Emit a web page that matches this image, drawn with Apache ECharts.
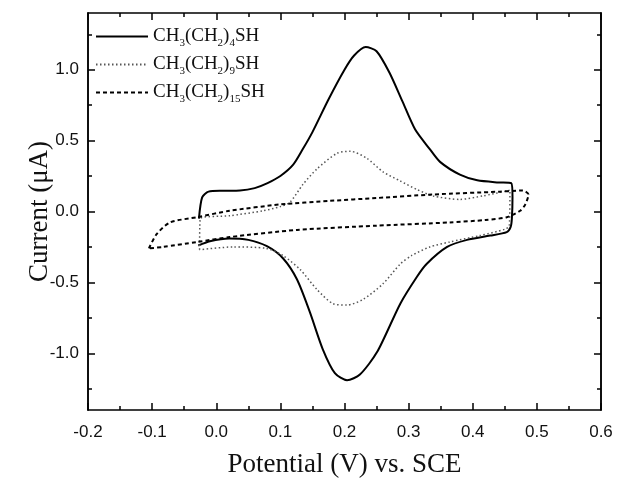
<!DOCTYPE html>
<html>
<head>
<meta charset="utf-8">
<script src="https://cdn.jsdelivr.net/npm/echarts@6/dist/echarts.min.js"></script>
<style>
  html, body { margin: 0; padding: 0; background: #fff; }
  #main { width: 618px; height: 483px; }
</style>
</head>
<body>
<div id="main"></div>
<script>
// series names (legend) and rich-text versions with subscripts
var seriesNames = ['CH3(CH2)4SH', 'CH3(CH2)9SH', 'CH3(CH2)15SH'];
var legendRich = ['CH{s|3}(CH{s|2}){s|4}SH', 'CH{s|3}(CH{s|2}){s|9}SH', 'CH{s|3}(CH{s|2}){s|15}SH'];

// tick values
var xTicks = [-0.2, -0.1, 0.0, 0.1, 0.2, 0.3, 0.4, 0.5, 0.6];
var yTicks = [-1.0, -0.5, 0.0, 0.5, 1.0];
var yMinorTicks = [-1.25, -0.75, -0.25, 0.25, 0.75, 1.25];

// [potential (V), current (uA)], in scan order
var c4Data = [
  [-0.027, -0.05], [-0.022, 0.10], [-0.012, 0.14], [0.01, 0.146], [0.037, 0.148],
  [0.06, 0.165], [0.08, 0.2], [0.1, 0.25], [0.12, 0.33], [0.135, 0.44],
  [0.15, 0.56], [0.175, 0.79], [0.2, 1.0], [0.215, 1.1], [0.233, 1.16],
  [0.25, 1.13], [0.27, 0.98], [0.29, 0.78], [0.31, 0.58], [0.333, 0.44],
  [0.349, 0.35], [0.38, 0.26], [0.407, 0.22], [0.44, 0.205], [0.46, 0.2],
  [0.462, 0.1], [0.461, -0.05], [0.459, -0.11], [0.453, -0.145], [0.427, -0.17],
  [0.391, -0.2], [0.36, -0.25], [0.328, -0.37], [0.313, -0.46], [0.287, -0.65],
  [0.251, -0.99], [0.224, -1.15], [0.204, -1.19], [0.185, -1.14], [0.166, -0.97],
  [0.146, -0.71], [0.126, -0.48], [0.104, -0.33], [0.079, -0.245], [0.05, -0.2],
  [0.02, -0.19], [-0.01, -0.21], [-0.028, -0.24]
];
var c9Data = [
  [-0.026, -0.27], [-0.025, -0.05], [0.021, -0.03], [0.073, 0.005], [0.1, 0.035],
  [0.115, 0.065], [0.135, 0.19], [0.157, 0.3], [0.188, 0.41], [0.209, 0.425],
  [0.235, 0.375], [0.26, 0.28], [0.287, 0.215], [0.313, 0.155], [0.338, 0.11],
  [0.38, 0.085], [0.416, 0.11], [0.453, 0.145], [0.458, 0.15], [0.457, -0.1],
  [0.45, -0.125], [0.411, -0.17], [0.364, -0.215], [0.333, -0.25], [0.305, -0.31],
  [0.287, -0.37], [0.26, -0.51], [0.229, -0.62], [0.204, -0.66], [0.182, -0.65],
  [0.157, -0.55], [0.131, -0.41], [0.104, -0.31], [0.078, -0.26], [0.026, -0.25],
  [-0.026, -0.27]
];
var c15Data = [
  [-0.105, -0.26], [-0.093, -0.16], [-0.072, -0.077], [-0.03, -0.04], [0.021, 0.005],
  [0.1, 0.05], [0.177, 0.075], [0.25, 0.095], [0.338, 0.12], [0.442, 0.14],
  [0.478, 0.148], [0.487, 0.12], [0.482, 0.05], [0.474, 0.005], [0.453, -0.04],
  [0.42, -0.06], [0.364, -0.077], [0.25, -0.1], [0.126, -0.13], [0.021, -0.18],
  [-0.03, -0.215], [-0.083, -0.25], [-0.105, -0.26]
];

var chart = echarts.init(document.getElementById('main'), null, { renderer: 'canvas' });

var axisLine = { show: true, onZero: false, lineStyle: { color: '#000', width: 1.5 } };

function tickAxis(pos, vals, len, labels) {
  return {
    type: 'value', position: pos, min: -1.4, max: 1.4,
    axisLine: axisLine,
    axisTick: { show: true, inside: true, length: len, customValues: vals, lineStyle: { color: '#000', width: 1.5 } },
    axisLabel: labels ? {
      show: true, customValues: vals, fontFamily: 'Liberation Sans, Arial, sans-serif',
      fontSize: 17, color: '#111', margin: 9,
      formatter: function (v) { return v.toFixed(1); }
    } : { show: false },
    splitLine: { show: false }
  };
}

var yAxes = [
  tickAxis('left', yTicks, 7, true),
  tickAxis('right', yTicks, 7, false),
  tickAxis('left', yMinorTicks, 4, false),
  tickAxis('right', yMinorTicks, 4, false)
];
yAxes[0].name = 'Current (\u03bcA)';
yAxes[0].nameLocation = 'middle';
yAxes[0].nameGap = 35;
yAxes[0].nameMoveOverlap = false;
yAxes[0].nameTextStyle = { fontFamily: 'Liberation Serif, Times New Roman, serif', fontSize: 27, color: '#111' };

option = {
  animation: false,
  backgroundColor: '#fff',
  grid: { left: 88, right: 17, top: 13, bottom: 69, containLabel: false },
  legend: {
    orient: 'vertical', left: 90, top: 22, itemWidth: 52, itemHeight: 10, itemGap: 6,
    data: seriesNames,
    itemStyle: { color: 'transparent', borderColor: 'transparent', borderWidth: 0 },
    formatter: function (name) { return legendRich[seriesNames.indexOf(name)]; },
    textStyle: {
      fontFamily: 'Liberation Serif, Times New Roman, serif', fontSize: 19, color: '#111',
      rich: { s: { fontSize: 11, padding: [14, 0, 0, 0], fontFamily: 'Liberation Serif, Times New Roman, serif', color: '#111' } }
    }
  },
  xAxis: [{
    type: 'value', position: 'bottom', min: -0.2, max: 0.6, interval: 0.1,
    axisLine: axisLine,
    axisTick: { show: true, inside: true, length: 7, lineStyle: { color: '#000', width: 1.5 } },
    minorTick: { show: true, splitNumber: 2, length: 4, lineStyle: { color: '#000', width: 1.5 } },
    axisLabel: { fontFamily: 'Liberation Sans, Arial, sans-serif', fontSize: 17, color: '#111', margin: 14,
      formatter: function (v) { return v.toFixed(1); } },
    splitLine: { show: false },
    name: 'Potential (V) vs. SCE', nameLocation: 'middle', nameGap: 41,
    nameTextStyle: { fontFamily: 'Liberation Serif, Times New Roman, serif', fontSize: 27, color: '#111' }
  }, {
    type: 'value', position: 'top', min: -0.2, max: 0.6, interval: 0.1,
    axisLine: axisLine,
    axisTick: { show: true, inside: true, length: 7, lineStyle: { color: '#000', width: 1.5 } },
    minorTick: { show: true, splitNumber: 2, length: 4, lineStyle: { color: '#000', width: 1.5 } },
    axisLabel: { show: false },
    splitLine: { show: false }
  }],
  yAxis: yAxes,
  series: [{
    name: seriesNames[0], type: 'line', data: c4Data, showSymbol: false, symbol: 'none',
    smooth: 0.25, lineStyle: { color: '#000', width: 2, type: 'solid' }, itemStyle: { color: '#000' }
  }, {
    name: seriesNames[1], type: 'line', data: c9Data, showSymbol: false, symbol: 'none',
    smooth: 0.25, lineStyle: { color: '#555', width: 1.5, type: [1.5, 2.5] }, itemStyle: { color: '#555' }
  }, {
    name: seriesNames[2], type: 'line', data: c15Data, showSymbol: false, symbol: 'none',
    smooth: 0.25, lineStyle: { color: '#000', width: 2, type: [4, 3] }, itemStyle: { color: '#000' }
  }]
};
chart.setOption(option);
</script>
</body>
</html>
